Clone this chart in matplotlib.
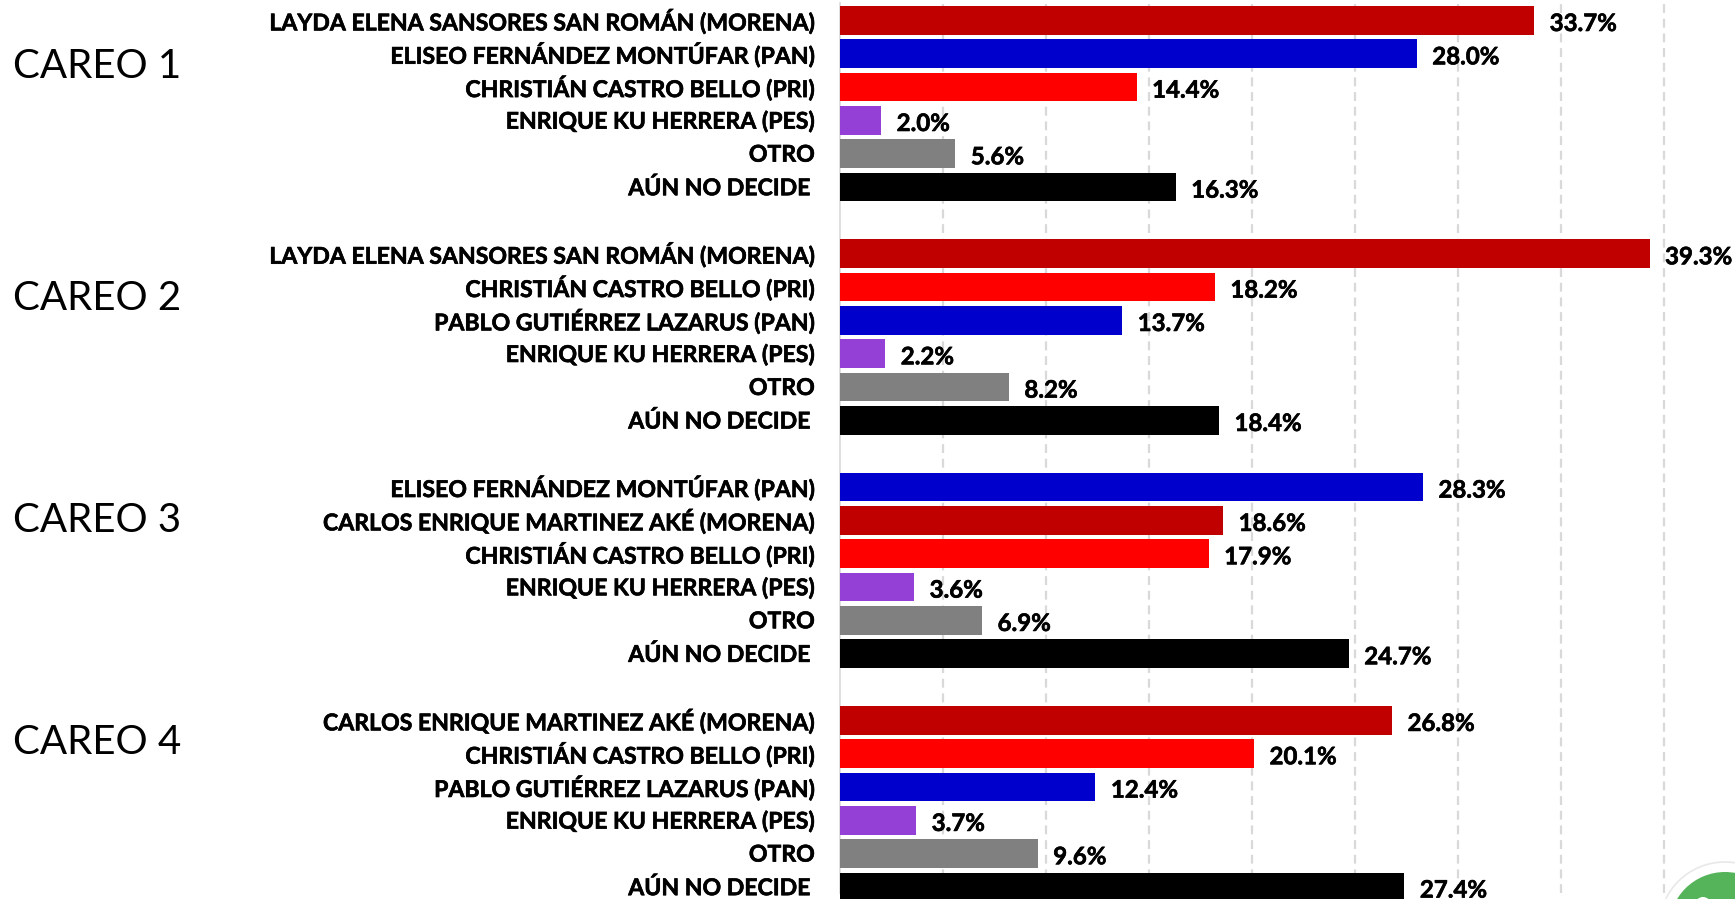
import matplotlib
matplotlib.use("Agg")
import matplotlib.pyplot as plt
import matplotlib.patheffects as pe
from matplotlib.patches import Circle

plt.rcParams['font.family'] = ['Lato', 'DejaVu Sans']

W, H = 1735, 899

LAYDA = "LAYDA ELENA SANSORES SAN ROMÁN (MORENA)"
ELISEO = "ELISEO FERNÁNDEZ MONTÚFAR (PAN)"
CHRIS = "CHRISTIÁN CASTRO BELLO (PRI)"
ENRIQUE = "ENRIQUE KU HERRERA (PES)"
OTRO = "OTRO"
NODEC = "AÚN NO DECIDE"
PABLO = "PABLO GUTIÉRREZ LAZARUS (PAN)"
CARLOS = "CARLOS ENRIQUE MARTINEZ AKÉ (MORENA)"

group_titles = ["CAREO 1", "CAREO 2", "CAREO 3", "CAREO 4"]
careo1_names = [LAYDA, ELISEO, CHRIS, ENRIQUE, OTRO, NODEC]
careo1_vals = [33.7, 28.0, 14.4, 2.0, 5.6, 16.3]
careo2_names = [LAYDA, CHRIS, PABLO, ENRIQUE, OTRO, NODEC]
careo2_vals = [39.3, 18.2, 13.7, 2.2, 8.2, 18.4]
careo3_names = [ELISEO, CARLOS, CHRIS, ENRIQUE, OTRO, NODEC]
careo3_vals = [28.3, 18.6, 17.9, 3.6, 6.9, 24.7]
careo4_names = [CARLOS, CHRIS, PABLO, ENRIQUE, OTRO, NODEC]
careo4_vals = [26.8, 20.1, 12.4, 3.7, 9.6, 27.4]

party_colors = {"MORENA": "#C00000", "PAN": "#0000CC", "PRI": "#FF0000",
                "PES": "#9440D6", "OTRO": "#808080", "AÚN": "#000000"}


def color_for(name):
    for key, col in party_colors.items():
        if key in name:
            return col
    return "#000000"


names = careo1_names + [""] + careo2_names + [""] + careo3_names + [""] + careo4_names
vals = careo1_vals + [None] + careo2_vals + [None] + careo3_vals + [None] + careo4_vals

fig = plt.figure(figsize=(W / 100, H / 100), dpi=100, facecolor="white")
left, right, top, bottom = 840, W, 3, 893
slot = 33.33
ax = fig.add_axes([left / W, 1 - bottom / H, (right - left) / W, (bottom - top) / H])
ax.set_xlim(0, (right - left) / 20.6)
ax.set_ylim((bottom - 20.5) / slot, (top - 20.5) / slot)

bold = [pe.withStroke(linewidth=0.45, foreground="black")]
for i, (n, v) in enumerate(zip(names, vals)):
    if v is None:
        continue
    ax.barh(i, v, height=0.86, color=color_for(n), clip_on=False, zorder=3)
    ax.text(v + 0.75, i + 0.09, f"{v:.1f}%", fontsize=17.3, fontweight="bold",
            va="center", ha="left", color="black", zorder=4, clip_on=False,
            path_effects=bold)
    label_x = -1.45 if n == NODEC else -1.22
    ax.text(label_x, i + 0.04, n, fontsize=16.6, fontweight="bold", va="center",
            ha="right", color="black", clip_on=False, path_effects=bold)

for s in ["top", "right", "bottom"]:
    ax.spines[s].set_visible(False)
ax.spines["left"].set_color("#D9D9D9")
ax.spines["left"].set_linewidth(1.2)
ax.set_xticks(range(5, 45, 5))
ax.set_yticks([])
ax.tick_params(axis="x", length=0, labelbottom=False)
ax.grid(axis="x", color="#D9D9D9", linewidth=1.6, linestyle=(0, (4, 2.6)), zorder=0)
ax.set_axisbelow(True)

for title, px in zip(group_titles, [67, 299, 520, 743]):
    fig.text(13 / W, 1 - px / H, title, fontsize=29, va="center", ha="left", color="black")

ov = fig.add_axes([0, 0, 1, 1], facecolor="none")
ov.set_xlim(0, W)
ov.set_ylim(H, 0)
ov.axis("off")
ov.add_patch(Circle((1725, 928), 66, facecolor="white", edgecolor="#E8E8E8", linewidth=1.2))
ov.add_patch(Circle((1725, 928), 56, facecolor="#55B45A", edgecolor="none"))
ov.add_patch(Circle((1703, 905), 8, facecolor="white", edgecolor="none"))

fig.savefig("out.png", dpi=100, facecolor="white")
